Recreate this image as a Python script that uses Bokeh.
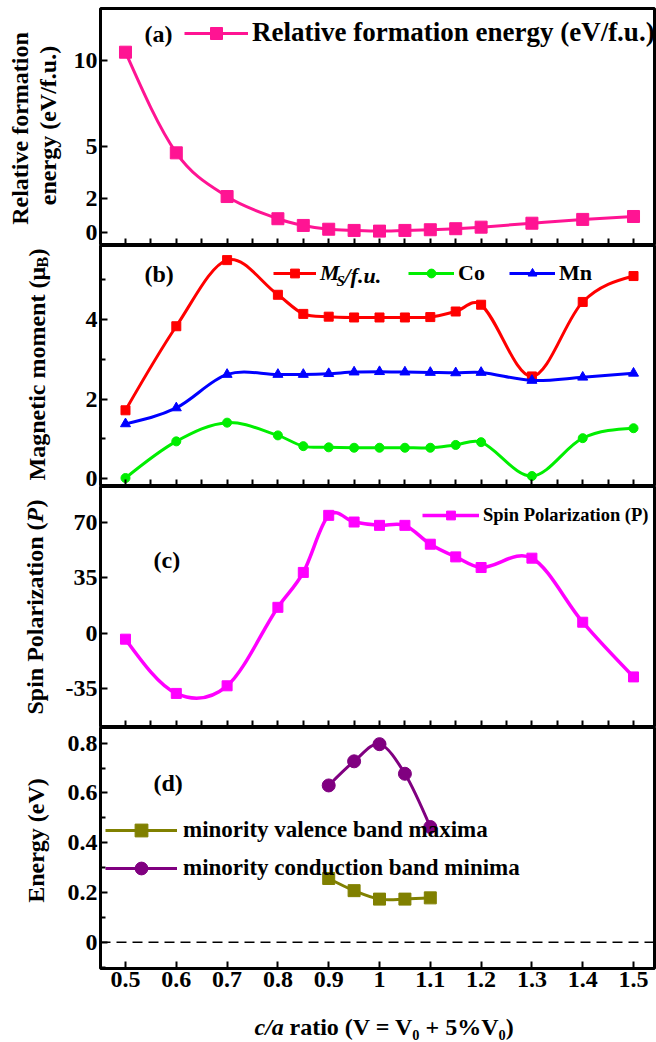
import numpy as np
from bokeh.plotting import figure
from bokeh.models import Range1d, FixedTicker, Label, Legend, LegendItem, Span
from bokeh.layouts import column, row
from bokeh.embed import file_html
from bokeh.resources import INLINE
from bokeh.core.properties import value

# ---------------- data ----------------
ca_ratio = [0.5, 0.6, 0.7, 0.8, 0.85, 0.9, 0.95, 1.0, 1.05, 1.1, 1.15, 1.2, 1.3, 1.4, 1.5]
formation_energy = [10.48, 4.63, 2.09, 0.80, 0.41, 0.19, 0.12, 0.08, 0.12, 0.16, 0.22, 0.31, 0.54, 0.76, 0.93]
ms_fu = [1.72, 3.83, 5.49, 4.62, 4.14, 4.07, 4.05, 4.05, 4.05, 4.06, 4.20, 4.37, 2.57, 4.44, 5.09]
co_moment = [0.02, 0.94, 1.41, 1.09, 0.82, 0.79, 0.78, 0.78, 0.78, 0.78, 0.85, 0.92, 0.07, 1.02, 1.27]
mn_moment = [1.38, 1.78, 2.62, 2.62, 2.62, 2.64, 2.68, 2.69, 2.68, 2.67, 2.66, 2.67, 2.47, 2.55, 2.65]
spin_pol = [-3.8, -38.0, -33.2, 16.3, 38.3, 74.3, 70.1, 68.0, 68.0, 56.1, 48.1, 41.4, 47.3, 6.9, -27.6]
band_ca = [0.9, 0.95, 1.0, 1.05, 1.1]
vbm = [0.256, 0.207, 0.173, 0.173, 0.178]
cbm = [0.630, 0.727, 0.796, 0.677, 0.463]

x_ticks = [0.5, 0.6, 0.7, 0.8, 0.9, 1.0, 1.1, 1.2, 1.3, 1.4, 1.5]
x_half_ticks = [0.5, 0.55, 0.6, 0.65, 0.7, 0.75, 0.8, 0.85, 0.9, 0.95, 1.0,
                1.05, 1.1, 1.15, 1.2, 1.25, 1.3, 1.35, 1.4, 1.45, 1.5]
x_labels = {0.5: "0.5", 0.6: "0.6", 0.7: "0.7", 0.8: "0.8", 0.9: "0.9", 1.0: "1",
            1.1: "1.1", 1.2: "1.2", 1.3: "1.3", 1.4: "1.4", 1.5: "1.5"}
ya_ticks = [0, 2, 5, 10]
yb_ticks = [0, 2, 4]
yb_minor = [1, 3, 5]
yc_ticks = [-35, 0, 35, 70]
yc_labels = {-35: "-35", 0: "0", 35: "35", 70: "70"}
yd_ticks = [0, 0.2, 0.4, 0.6, 0.8]
yd_minor = [-0.1, 0.1, 0.3, 0.5, 0.7]

FONT = "Liberation Serif"
LW = 62                  # width of the left text column
LEFT, FW, RIGHT = 37, 554, 3
X0, X1 = 0.4508, 1.5413
TOTAL_H = 1042


def spline(xs, ys):
    x = np.asarray(xs, float)
    y = np.asarray(ys, float)
    h = np.diff(x)
    s = np.diff(y) / h
    m = np.empty_like(x)
    m[1:-1] = (y[2:] - y[:-2]) / (x[2:] - x[:-2])
    m[0] = (3 * s[0] - m[1]) / 2
    m[-1] = (3 * s[-1] - m[-2]) / 2
    return dict(x0=x[:-1], y0=y[:-1], x1=x[1:], y1=y[1:],
                cx0=x[:-1] + h / 3, cy0=y[:-1] + m[:-1] * h / 3,
                cx1=x[1:] - h / 3, cy1=y[1:] - m[1:] * h / 3)


def make_fig(top, fh, bottom, y0, y1, yticks, yminor, last=False):
    p = figure(width=LEFT + FW + RIGHT, height=top + fh + bottom,
               frame_width=FW, frame_height=fh,
               min_border_left=LEFT, min_border_right=RIGHT,
               min_border_top=top, min_border_bottom=bottom,
               x_range=Range1d(X0, X1), y_range=Range1d(y0, y1),
               output_backend="svg", toolbar_location=None)
    p.xgrid.visible = False
    p.ygrid.visible = False
    p.outline_line_color = "black"
    p.outline_line_width = 3
    p.background_fill_color = "white"
    p.border_fill_color = "white"
    for ax in (p.xaxis[0], p.yaxis[0]):
        ax.axis_line_color = None
        ax.major_tick_in = 7
        ax.major_tick_out = 0
        ax.major_tick_line_width = 2
        ax.minor_tick_out = 0
        ax.minor_tick_line_width = 2
        ax.major_label_text_font = FONT
        ax.major_label_text_font_style = "bold"
        ax.major_label_text_font_size = "24px"
        ax.major_label_text_color = "black"
    xa = p.xaxis[0]
    if last:
        xa.ticker = FixedTicker(ticks=x_ticks, minor_ticks=[])
        xa.major_label_overrides = x_labels
        xa.major_label_standoff = 3
    else:
        xa.ticker = FixedTicker(ticks=[], minor_ticks=x_half_ticks)
        xa.minor_tick_in = 7
        xa.major_label_standoff = 0
    ya = p.yaxis[0]
    ya.ticker = FixedTicker(ticks=yticks, minor_ticks=yminor)
    ya.minor_tick_in = 5
    ya.major_label_standoff = 3
    return p


def lab(p, top, fh, left, cx, cy, text, size, style="bold", angle=0.0, align="left", baseline="middle"):
    p.add_layout(Label(x=cx - left, y=top + fh - cy, x_units="screen", y_units="screen",
                       text=text, text_font=FONT, text_font_style=style,
                       text_font_size=f"{size}px", text_color="black",
                       angle=angle, text_align=align, text_baseline=baseline))


def series(p, xs, ys, color, marker, size, lw=3):
    b = p.bezier(line_color=color, line_width=lw, **spline(xs, ys))
    s = p.scatter(xs, ys, marker=marker, size=size, fill_color=color, line_color=color)
    return [b, s]


def legend(p, items, loc, gw, gh, fs, standoff=4, style="bold", orientation="vertical", spacing=0):
    lg = Legend(items=[LegendItem(label=value(t), renderers=r) for t, r in items],
                location=loc, orientation=orientation, glyph_width=gw, glyph_height=gh,
                label_height=gh, label_standoff=standoff, padding=0, margin=0, spacing=spacing,
                border_line_color=None, background_fill_alpha=0,
                label_text_font=FONT, label_text_font_style=style,
                label_text_font_size=f"{fs}px", label_text_color="black")
    p.add_layout(lg)


def text_fig(fw, fh, left=0, right=0):
    t = figure(width=left + fw + right, height=fh, frame_width=fw, frame_height=fh,
               min_border_left=left, min_border_right=right,
               min_border_top=0, min_border_bottom=0,
               x_range=Range1d(0, fw), y_range=Range1d(0, fh),
               x_axis_type=None, y_axis_type=None,
               output_backend="svg", toolbar_location=None)
    t.xgrid.visible = False
    t.ygrid.visible = False
    t.outline_line_color = None
    t.background_fill_color = "white"
    t.border_fill_color = "white"
    return t


ROT = np.pi / 2

# ---------------- (a) ----------------
TA, HA = 8, 237
pa = make_fig(TA, HA, 0, -0.756, 13.02, ya_ticks, [])
ra = series(pa, ca_ratio, formation_energy, "#FF1493", "square", 12)
legend(pa, [("Relative formation energy (eV/f.u.)", ra)], (84, 197), 64, 30, 27, standoff=4)
lab(pa, TA, HA, 99, 143, 33, "(a)", 24)

# ---------------- (b) ----------------
TB, HB = 0, 241
pb = make_fig(TB, HB, 0, -0.193, 5.857, yb_ticks, yb_minor)
rb_ms = series(pb, ca_ratio, ms_fu, "#FF0000", "square", 9)
rb_co = series(pb, ca_ratio, co_moment, "#00EE00", "circle", 9)
rb_mn = series(pb, ca_ratio, mn_moment, "#0000FF", "triangle", 10)
legend(pb, [("M", rb_ms)], (173, 200), 43, 22, 22, standoff=4, style="bold italic")
legend(pb, [("Co", rb_co), ("Mn", rb_mn)], (308, 200), 46, 22, 22, standoff=4,
       orientation="horizontal", spacing=24)
lab(pb, TB, HB, 99, 335, 35, "S", 15, style="bold italic")
lab(pb, TB, HB, 99, 343, 30, "/f.u.", 22, style="bold italic")
lab(pb, TB, HB, 99, 143, 28, "(b)", 24)

# ---------------- (c) ----------------
TC, HC = 0, 241
pc = make_fig(TC, HC, 0, -59.5, 92.5, yc_ticks, [])
pc.yaxis[0].major_label_overrides = yc_labels
rc = series(pc, ca_ratio, spin_pol, "#FF00FF", "square", 10, lw=3.5)
legend(pc, [("Spin Polarization (P)", rc)], (322, 201), 57, 22, 18.5, standoff=4)
lab(pc, TC, HC, 99, 152, 73, "(c)", 24)

# ---------------- (d) ----------------
TD, HD = 0, 241
pd = make_fig(TD, HD, 36, -0.106, 0.863, yd_ticks, yd_minor, last=True)
pd.add_layout(Span(location=0, dimension="width", line_color="black", line_width=1.5, line_dash="10 6"))
rd_v = series(pd, band_ca, vbm, "#808000", "square", 12)
rd_c = series(pd, band_ca, cbm, "#800080", "circle", 13)
legend(pd, [("minority valence band maxima", rd_v), ("minority conduction band minima", rd_c)],
       (5, 84), 72, 32, 23, standoff=6, spacing=6)
lab(pd, TD, HD, 99, 152, 55, "(d)", 24)

# ---------------- x-axis title strip ----------------
XH = 38
px = text_fig(FW, XH, left=LEFT, right=RIGHT)
lab(px, 0, XH, 99, 253, 22, "c/a", 24, style="bold italic")
lab(px, 0, XH, 99, 288, 22, "ratio (V = V\u2080 + 5%V\u2080)", 24)

# ---------------- y-axis titles column ----------------
pl = text_fig(LW, TOTAL_H)
lab(pl, 0, TOTAL_H, 0, 19, 128, "Relative formation", 24, angle=ROT, align="center")
lab(pl, 0, TOTAL_H, 0, 47, 125, "energy (eV/f.u.)", 24, angle=ROT, align="center")
lab(pl, 0, TOTAL_H, 0, 36, 480, "Magnetic moment (\u03bc", 24, angle=ROT)
lab(pl, 0, TOTAL_H, 0, 42, 267, "B", 16, angle=ROT)
lab(pl, 0, TOTAL_H, 0, 36, 256, ")", 24, angle=ROT)
lab(pl, 0, TOTAL_H, 0, 34, 714, "Spin Polarization (", 24, angle=ROT)
lab(pl, 0, TOTAL_H, 0, 34, 522, "P", 24, style="bold italic", angle=ROT)
lab(pl, 0, TOTAL_H, 0, 34, 507, ")", 24, angle=ROT)
lab(pl, 0, TOTAL_H, 0, 35, 840, "Energy (eV)", 24, angle=ROT, align="center")

layout = row(pl, column(pa, pb, pc, pd, px, spacing=0), spacing=0)
open("out.html", "w").write(file_html(layout, INLINE))
